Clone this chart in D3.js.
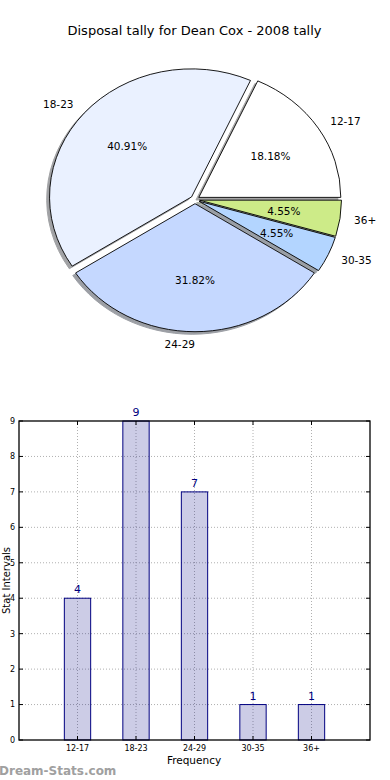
<!DOCTYPE html>
<html><head><meta charset="utf-8">
<script src="https://cdn.jsdelivr.net/npm/d3@7"></script>
<style>body{margin:0;background:#fff}svg{display:block;font-family:"DejaVu Sans",sans-serif}</style>
</head><body>
<svg id="c" width="390" height="780"></svg>
<script>
const title = "Disposal tally for Dean Cox - 2008 tally";
const categories = ["12-17","18-23","24-29","30-35","36+"];
const values = [4,9,7,1,1];
const pieColors = ["#ffffff","#eaf1ff","#c5d8ff","#b3d5ff","#cdeb88"];
const yTicks = [0,1,2,3,4,5,6,7,8,9];

const svg = d3.select("#c");
svg.append("rect").attr("width",390).attr("height",780).attr("fill","#fff");

svg.append("text").attr("x",194.5).attr("y",35).attr("text-anchor","middle")
  .attr("font-size",13).attr("fill","#000").text(title);

// ---- Pie (elliptical, matplotlib-like) ----
const cx = 195, cy = 199.6, rx = 142, ry = 128, explode = 0.032;
const xs = d3.scaleLinear().domain([-1,1]).range([cx-rx, cx+rx]);
const ys = d3.scaleLinear().domain([-1,1]).range([cy-ry, cy+ry]);
const total = d3.sum(values);
const pie = d3.pie().sort(null).startAngle(Math.PI/2).endAngle(Math.PI/2 - 2*Math.PI);
const arcs = pie(values);
const arcGen = d3.arc().innerRadius(0).outerRadius(1);
const pg = svg.append("g");
function shade(c){const r=d3.rgb(c);return d3.rgb(r.r*0.3,r.g*0.3,r.b*0.3).toString();}
// shadows
arcs.forEach((a,i)=>{
  const m=(a.startAngle+a.endAngle)/2;
  const dx=explode*Math.sin(m)-0.02, dy=-explode*Math.cos(m)+0.02;
  pg.append("path").attr("d",arcGen(a))
    .attr("transform",`translate(${xs(dx)},${ys(dy)}) scale(${rx},${ry})`)
    .attr("fill",shade(pieColors[i])).attr("stroke",shade(pieColors[i]))
    .attr("stroke-width",1).attr("vector-effect","non-scaling-stroke").attr("opacity",0.5);
});
arcs.forEach((a,i)=>{
  const m=(a.startAngle+a.endAngle)/2;
  const dx=explode*Math.sin(m), dy=-explode*Math.cos(m);
  pg.append("path").attr("d",arcGen(a))
    .attr("transform",`translate(${xs(dx)},${ys(dy)}) scale(${rx},${ry})`)
    .attr("fill",pieColors[i]).attr("stroke","#000")
    .attr("stroke-width",0.9).attr("vector-effect","non-scaling-stroke");
});
arcs.forEach((a,i)=>{
  const m=(a.startAngle+a.endAngle)/2;
  const ux=Math.sin(m), uy=-Math.cos(m);
  const ox=explode*ux, oy=explode*uy;
  pg.append("text").attr("x",xs(ox+1.1*ux)).attr("y",ys(oy+1.1*uy))
    .attr("dy","0.36em").attr("text-anchor", ux>1e-9?"start":"end")
    .attr("font-size",10.5).text(categories[i]);
  pg.append("text").attr("x",xs(ox+0.6*ux)).attr("y",ys(oy+0.6*uy))
    .attr("dy","0.36em").attr("text-anchor","middle")
    .attr("font-size",10.5).text((values[i]/total*100).toFixed(2)+"%");
});

// ---- Bar chart ----
const L=19,R=370,T=421,B=740;
const x = d3.scaleLinear().domain([-1,5]).range([L,R]);
const y = d3.scaleLinear().domain([0,9]).range([B,T]);
const bg = svg.append("g");
// grid
yTicks.forEach(t=>{ if(t>0&&t<9) bg.append("line").attr("x1",L).attr("x2",R).attr("y1",y(t)).attr("y2",y(t))
  .attr("stroke","#b0b0b0").attr("stroke-width",1).attr("stroke-dasharray","1,2");});
categories.forEach((c,i)=>{ bg.append("line").attr("x1",x(i)).attr("x2",x(i)).attr("y1",T).attr("y2",B)
  .attr("stroke","#b0b0b0").attr("stroke-width",1).attr("stroke-dasharray","1,2");});
// bars
const bw = 0.45;
bg.selectAll("rect.bar").data(values).join("rect").attr("class","bar")
  .attr("x",(d,i)=>x(i-bw/2)).attr("width",x(bw)-x(0))
  .attr("y",d=>y(d)).attr("height",d=>y(0)-y(d))
  .attr("fill","#000080").attr("fill-opacity",0.2).attr("stroke","#000080").attr("stroke-width",1);
bg.selectAll("text.val").data(values).join("text").attr("class","val")
  .attr("x",(d,i)=>x(i)).attr("y",d=>y(d)-5).attr("text-anchor","middle")
  .attr("font-size",11).attr("fill","#000080").text(d=>d);
// ticks inside
yTicks.forEach(t=>{
  bg.append("line").attr("x1",L).attr("x2",L+4).attr("y1",y(t)).attr("y2",y(t)).attr("stroke","#000");
  bg.append("line").attr("x1",R-4).attr("x2",R).attr("y1",y(t)).attr("y2",y(t)).attr("stroke","#000");
  bg.append("text").attr("x",L-4).attr("y",y(t)).attr("dy","0.36em").attr("text-anchor","end")
    .attr("font-size",8).attr("fill","#000").text(t);
});
categories.forEach((c,i)=>{
  bg.append("line").attr("x1",x(i)).attr("x2",x(i)).attr("y1",B).attr("y2",B-4).attr("stroke","#000");
  bg.append("line").attr("x1",x(i)).attr("x2",x(i)).attr("y1",T).attr("y2",T+4).attr("stroke","#000");
  bg.append("text").attr("x",x(i)).attr("y",B+11).attr("text-anchor","middle")
    .attr("font-size",8).attr("fill","#000").text(c);
});
bg.append("rect").attr("x",L).attr("y",T).attr("width",R-L).attr("height",B-T)
  .attr("fill","none").attr("stroke","#000").attr("stroke-width",1.3);
bg.append("text").attr("x",194).attr("y",764).attr("text-anchor","middle").attr("font-size",10.5).text("Frequency");
bg.append("text").attr("transform",`translate(10,${(T+B)/2}) rotate(-90)`).attr("text-anchor","middle")
  .attr("font-size",10).text("Stat Intervals");
svg.append("text").attr("x",-1).attr("y",775).attr("font-size",12).attr("font-weight","bold")
  .attr("fill","#a0a0a0").text("Dream-Stats.com");
</script>
</body></html>
